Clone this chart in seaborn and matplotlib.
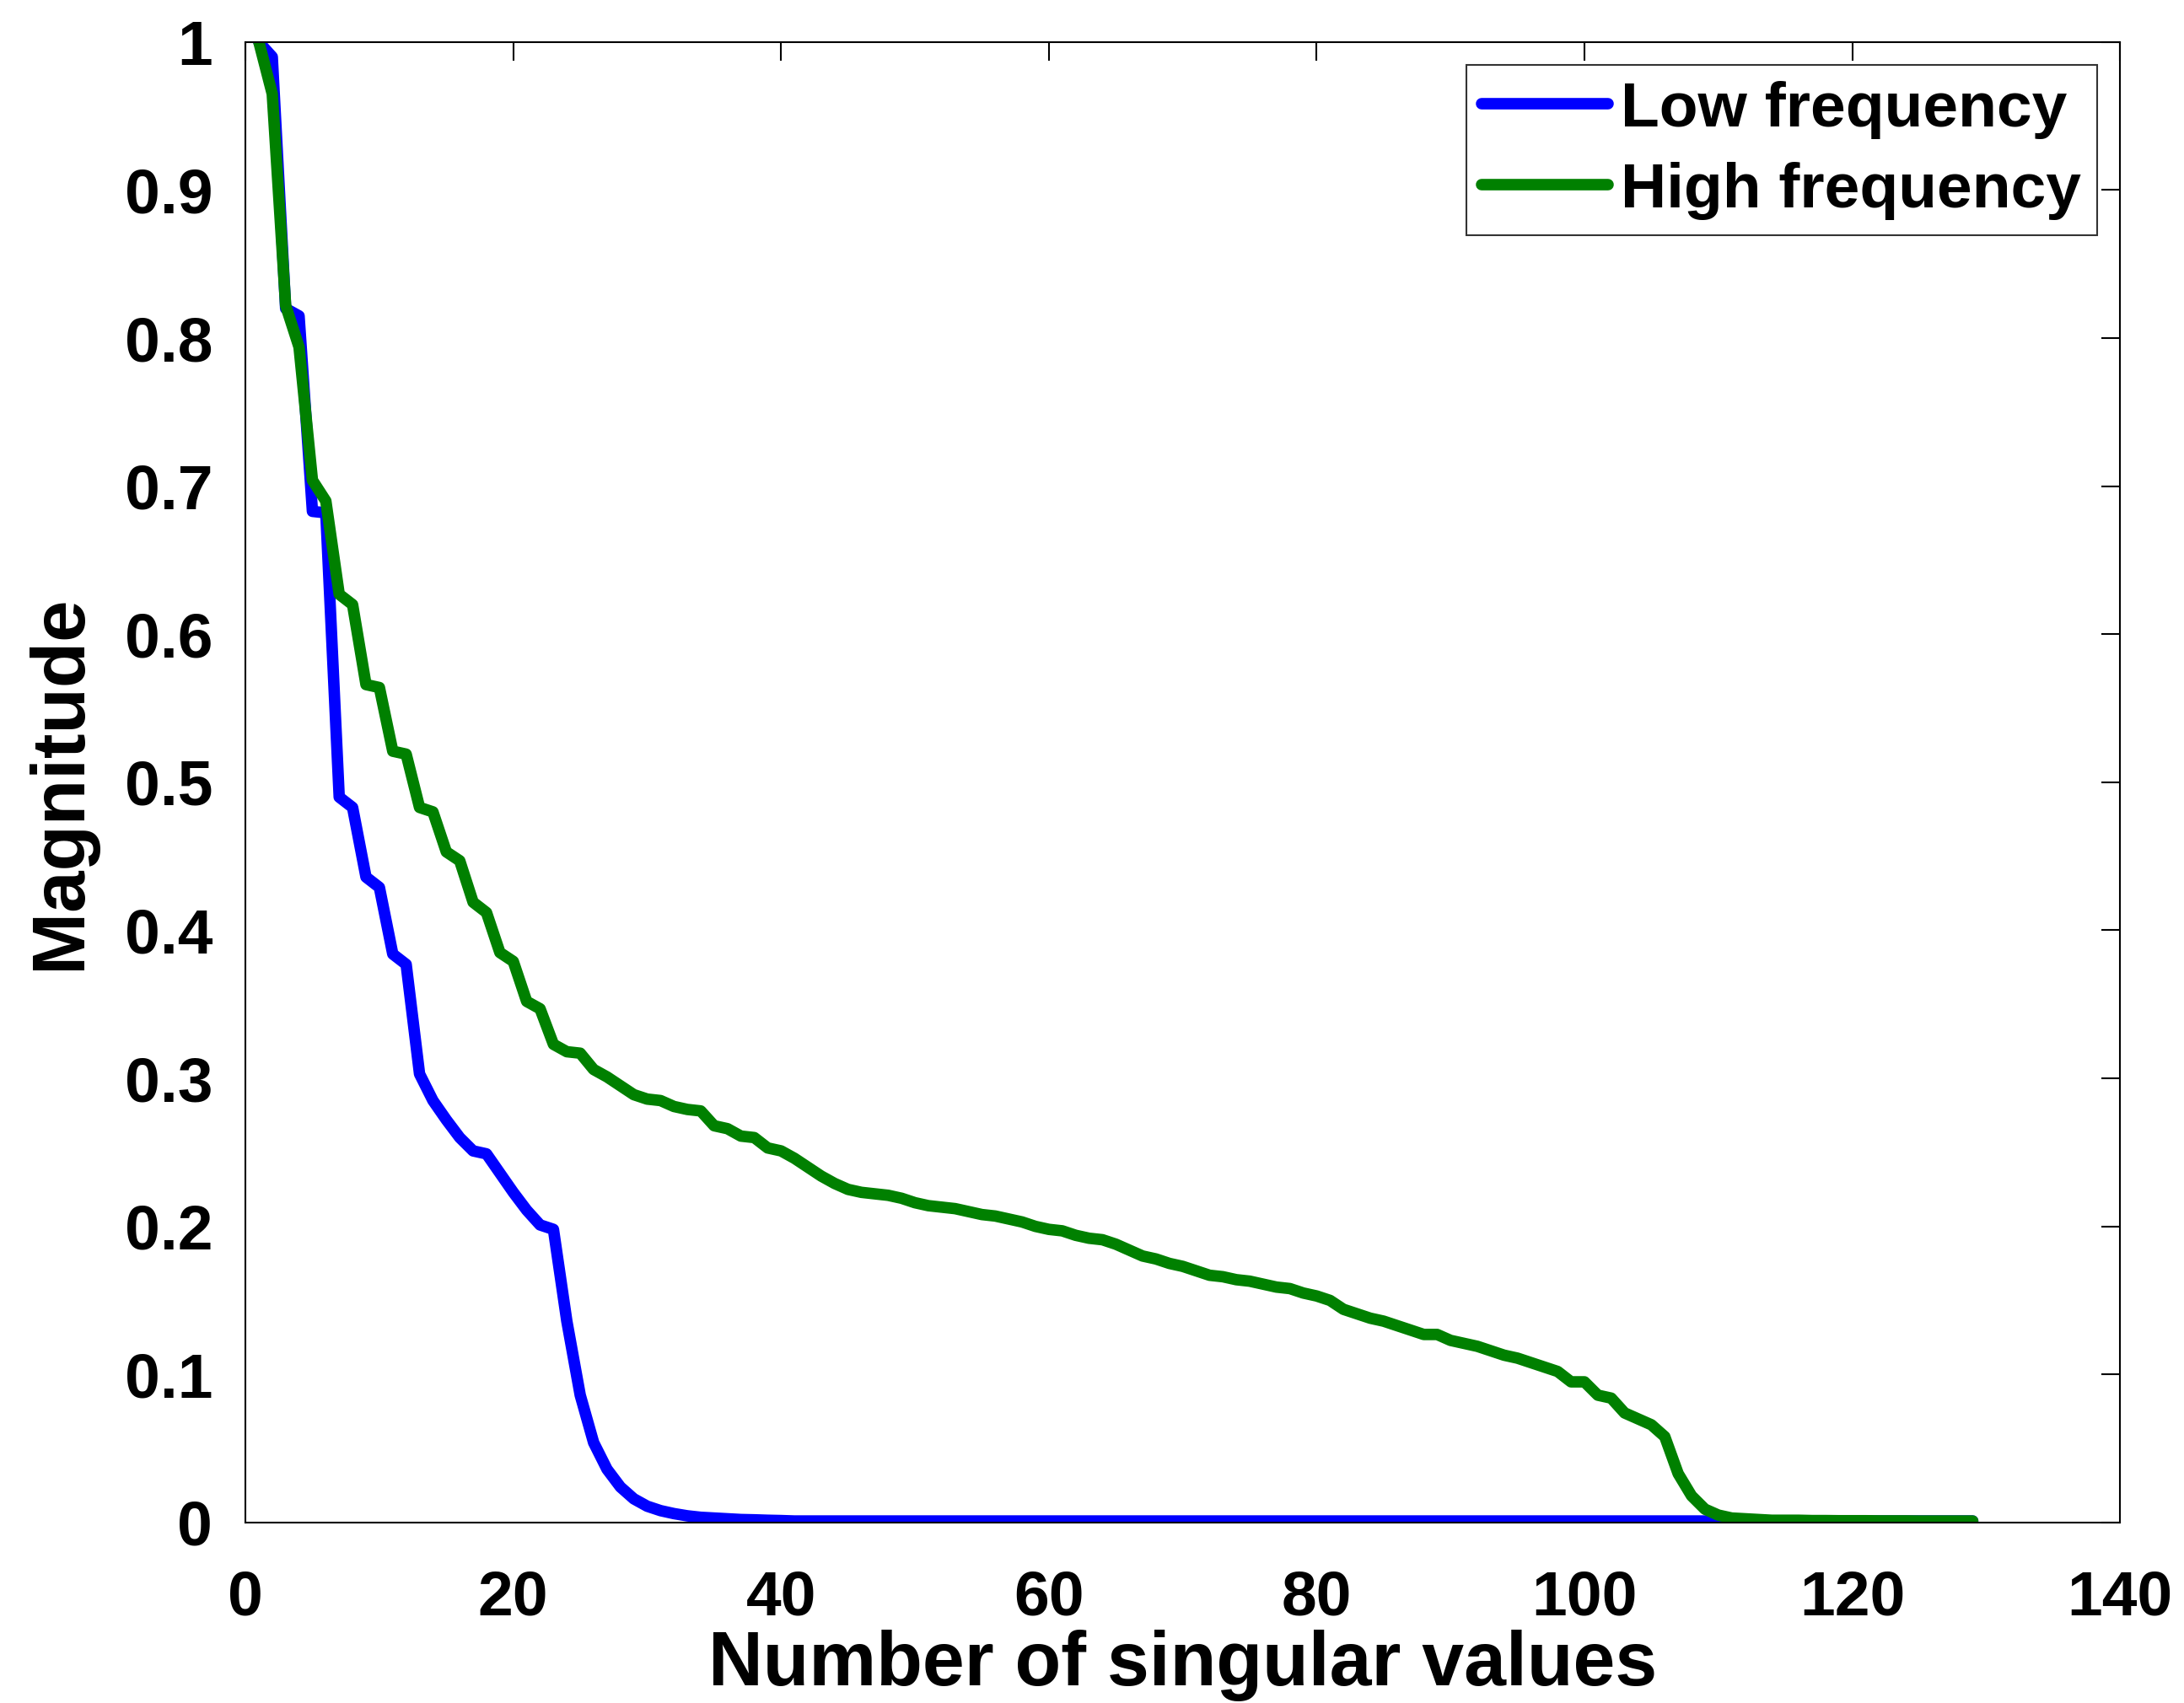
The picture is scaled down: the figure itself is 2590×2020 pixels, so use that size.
import numpy as np
import pandas as pd
import matplotlib
matplotlib.use("Agg")
import matplotlib.pyplot as plt
import seaborn as sns

# ---- data ----
low_freq = [1.0, 0.99, 0.82, 0.815, 0.683, 0.682, 0.490, 0.483, 0.436, 0.429,
            0.384, 0.377, 0.303, 0.285, 0.272, 0.260, 0.251, 0.249, 0.236, 0.223,
            0.211, 0.201, 0.198, 0.136, 0.086, 0.054, 0.036, 0.024, 0.016, 0.011,
            0.008, 0.006, 0.0045, 0.0035, 0.003, 0.0025, 0.002, 0.0018, 0.0015, 0.0013] + \
           [0.001] * 89

high_freq = [1.0, 0.965, 0.822, 0.794, 0.704, 0.690, 0.627, 0.620, 0.566, 0.564,
             0.521, 0.519, 0.483, 0.480, 0.453, 0.447, 0.419, 0.412, 0.385, 0.379,
             0.352, 0.347, 0.323, 0.318, 0.317, 0.306, 0.301, 0.295, 0.289, 0.286,
             0.285, 0.281, 0.279, 0.278, 0.268, 0.266, 0.261, 0.260, 0.253, 0.251,
             0.246, 0.240, 0.234, 0.229, 0.225, 0.223, 0.222, 0.221, 0.219, 0.216,
             0.214, 0.213, 0.212, 0.210, 0.208, 0.207, 0.205, 0.203, 0.200, 0.198,
             0.197, 0.194, 0.192, 0.191, 0.188, 0.184, 0.180, 0.178, 0.175, 0.173,
             0.170, 0.167, 0.166, 0.164, 0.163, 0.161, 0.159, 0.158, 0.155, 0.153,
             0.150, 0.144, 0.141, 0.138, 0.136, 0.133, 0.130, 0.127, 0.127, 0.123,
             0.121, 0.119, 0.116, 0.113, 0.111, 0.108, 0.105, 0.102, 0.095, 0.095,
             0.086, 0.084, 0.074, 0.070, 0.066, 0.058, 0.033, 0.018, 0.009, 0.005,
             0.003, 0.0025, 0.002, 0.0015, 0.0015, 0.0015, 0.0013, 0.0013, 0.0012, 0.0012,
             0.0012, 0.0011, 0.0011, 0.0011, 0.001, 0.001, 0.001, 0.001, 0.001]

series_names = ["Low frequency", "High frequency"]
series_colors = ["#0000ff", "#008000"]
x_ticks = [0, 20, 40, 60, 80, 100, 120, 140]
y_ticks = [0, 0.1, 0.2, 0.3, 0.4, 0.5, 0.6, 0.7, 0.8, 0.9, 1.0]
y_tick_labels = ["0", "0.1", "0.2", "0.3", "0.4", "0.5", "0.6", "0.7", "0.8", "0.9", "1"]

idx_low = np.arange(1, len(low_freq) + 1)
idx_high = np.arange(1, len(high_freq) + 1)
df = pd.concat([
    pd.DataFrame({"n": idx_low, "mag": low_freq, "series": series_names[0]}),
    pd.DataFrame({"n": idx_high, "mag": high_freq, "series": series_names[1]}),
], ignore_index=True)

sns.set_style("white")
plt.rcParams["font.family"] = ["Liberation Sans", "DejaVu Sans"]
plt.rcParams["font.weight"] = "bold"
plt.rcParams["text.color"] = "black"
plt.rcParams["axes.labelcolor"] = "black"
plt.rcParams["xtick.color"] = "black"
plt.rcParams["ytick.color"] = "black"

fig = plt.figure(figsize=(25.9, 20.2), dpi=100)
ax = fig.add_axes([0.1124, 0.106, 0.9707 - 0.1124, 0.9753 - 0.106])

sns.lineplot(data=df, x="n", y="mag", hue="series", palette=series_colors,
             hue_order=series_names, linewidth=9.8, ax=ax, estimator=None,
             sort=False)

ax.set_xlim(0, 140)
ax.set_ylim(0, 1)
ax.set_xticks(x_ticks)
ax.set_xticklabels([str(t) for t in x_ticks])
ax.set_yticks(y_ticks)
ax.set_yticklabels(y_tick_labels)

for s in ax.spines.values():
    s.set_visible(True)
    s.set_color("black")
    s.set_linewidth(1.5)

ax.tick_params(axis="both", which="major", direction="in", length=16, width=1.5,
               top=True, right=True, labelsize=54, colors="black",
               labelcolor="black")
ax.tick_params(axis="x", pad=40)
ax.tick_params(axis="y", pad=28)
for lab in ax.get_xticklabels() + ax.get_yticklabels():
    lab.set_fontweight("bold")

ax.set_xlabel("Number of singular values", fontsize=64.5, fontweight="bold",
              labelpad=2, color="black")
ax.set_ylabel("Magnitude", fontsize=64, fontweight="bold", labelpad=24,
              color="black")

leg = ax.legend(loc="upper right", fontsize=54, frameon=True, fancybox=False,
                handlelength=2.0, handletextpad=0.2, borderpad=0.25,
                labelspacing=0.36, borderaxespad=0.36)
leg.get_frame().set_edgecolor("black")
leg.get_frame().set_linewidth(1.5)
for t in leg.get_texts():
    t.set_fontweight("bold")
    t.set_color("black")
for h in leg.get_lines():
    h.set_linewidth(9.8)

fig.savefig("out.png", dpi=100, facecolor="white")
